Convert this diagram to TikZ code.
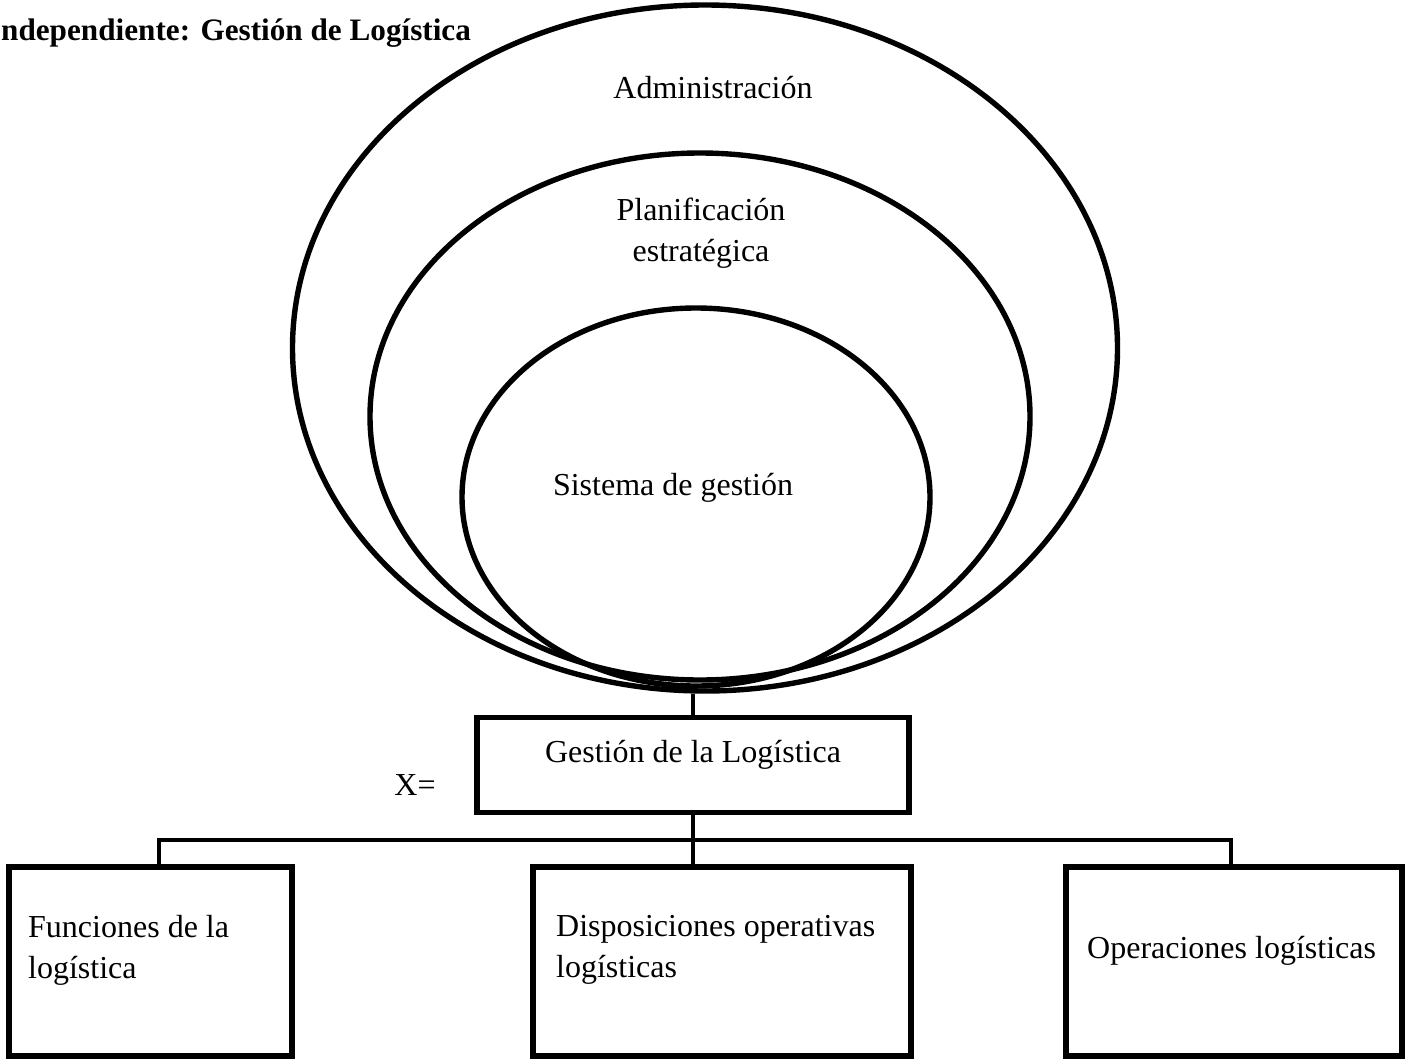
\documentclass[tikz,border=0pt]{standalone}
\usepackage{fontspec}
\setmainfont{Liberation Serif}
\usetikzlibrary{shapes.geometric}
\begin{document}
\begin{tikzpicture}[x=1pt,y=-1pt,
  ring/.style={draw, ellipse, line width=5.4pt, inner sep=0pt},
  box/.style={draw, line width=5.4pt, inner sep=0pt},
  link/.style={line width=4.6pt},
  txt/.style={font=\fontsize{32}{41}\selectfont, inner sep=0pt},
  bold/.style={font=\fontsize{31.2}{40}\selectfont\bfseries, inner sep=0pt}]
\useasboundingbox (0,0) rectangle (1413,1060);

% nested rings
\node[ring, minimum width=825pt, minimum height=686pt] (adm) at (705,348) {};
\node[ring, minimum width=660pt, minimum height=527pt] (plan) at (700,416.5) {};
\node[ring, minimum width=468pt, minimum height=378pt] (sis) at (696,497) {};

% titles
\node[bold, anchor=base west] (title) at (1,40) {ndependiente: Gestión de Logística};
\node[txt, anchor=base] (admtxt) at (713,98) {Administración};
\node[txt, align=center, anchor=center] (plantxt) at (701,233) {Planificación\\estratégica};
\node[txt, anchor=base] (sistxt) at (673,495) {Sistema de gestión};

% boxes
\node[box, minimum width=432pt, minimum height=95pt] (gl) at (693,765) {};
\node[txt, anchor=base] (gltxt) at (693,762) {Gestión de la Logística};
\node[txt, anchor=base] (xeq) at (415,795) {X=};

\node[box, minimum width=283pt, minimum height=189pt] (fun) at (150.5,961.5) {};
\node[box, minimum width=378pt, minimum height=189pt] (dis) at (722,961.5) {};
\node[box, minimum width=336pt, minimum height=189pt] (ope) at (1234,961.5) {};

\node[txt, align=left, anchor=west] (funtxt) at (28,950) {Funciones de la\\logística};
\node[txt, align=left, anchor=west] (distxt) at (556,950) {Disposiciones operativas\\logísticas};
\node[txt, anchor=base west] (opetxt) at (1087,958) {Operaciones logísticas};

% connectors
\draw[link] (gl.north) -- (gl.north |- adm.south);
\draw[link] (gl.south) -- (gl.south |- dis.north);
\coordinate (jl) at (159,840);
\coordinate (jr) at (1231,840);
\draw[link] (jl |- fun.north) -- (jl) -- (jr) -- (jr |- ope.north);
\end{tikzpicture}
\end{document}
